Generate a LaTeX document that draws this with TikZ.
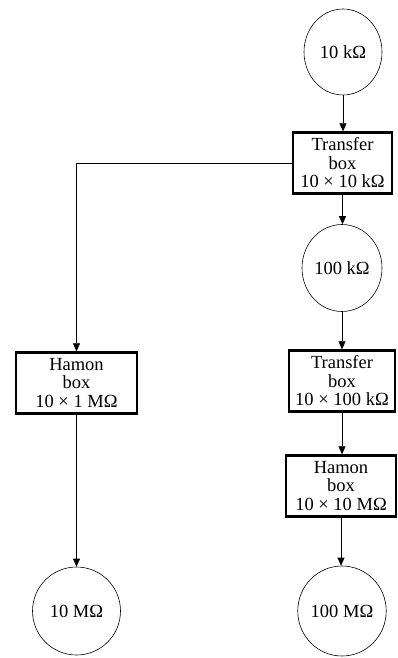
\documentclass[tikz,border=0pt]{standalone}
\usepackage{fontspec}
\setmainfont{Liberation Serif}
\usetikzlibrary{arrows.meta,shapes.geometric}
\begin{document}
\begin{tikzpicture}[x=1pt,y=-1pt,
  txt/.style={font=\fontsize{18.5pt}{18.5pt}\selectfont, align=center, text=black},
  res/.style={txt, ellipse, draw, line width=0.6pt, inner sep=0pt},
  box/.style={txt, rectangle, draw, line width=2.4pt, inner sep=0pt},
  arr/.style={line width=0.6pt, -{Triangle[length=8pt,width=7pt]}}
]
\useasboundingbox (0,0) rectangle (398,658);
\node[res, minimum width=78pt, minimum height=86pt] (c1) at (343,52) {10 k\char"03A9};
\node[box, minimum width=99pt, minimum height=61pt] (t1) at (342.5,163) {Transfer\\box\\10 × 10 k\char"03A9};
\node[res, minimum width=80pt, minimum height=87pt] (c2) at (342,268) {100 k\char"03A9};
\node[box, minimum width=106pt, minimum height=61pt] (t2) at (342,381) {Transfer\\box\\10 × 100 k\char"03A9};
\node[box, minimum width=110pt, minimum height=61pt] (h2) at (341,486) {Hamon\\box\\10 × 10 M\char"03A9};
\node[res, minimum width=85pt, minimum height=90pt] (c4) at (342,611) {100 M\char"03A9};
\node[box, minimum width=121pt, minimum height=61pt] (h1) at (76.5,383) {Hamon\\box\\10 × 1 M\char"03A9};
\node[res, minimum width=88pt, minimum height=88pt] (c3) at (76.5,611) {10 M\char"03A9};
\draw[arr] (c1.south) -- (c1.south |- t1.north);
\draw[arr] (t1.south) -- (t1.south |- c2.north);
\draw[arr] (c2.south) -- (c2.south |- t2.north);
\draw[arr] (t2.south) -- (t2.south |- h2.north);
\draw[arr] (h2.south) -- (h2.south |- c4.north);
\draw[arr] (t1.west) -| (h1.north);
\draw[arr] (h1.south) -- (c3.north);
\end{tikzpicture}
\end{document}
